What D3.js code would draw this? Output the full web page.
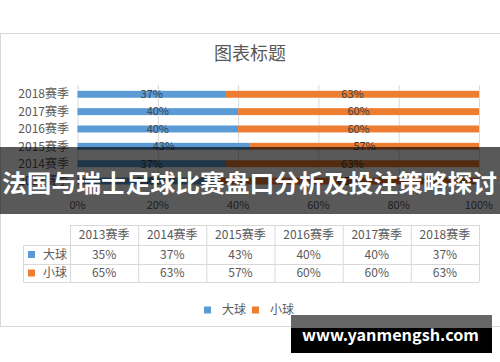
<!DOCTYPE html>
<html>
<head>
<meta charset="utf-8">
<script src="https://cdn.jsdelivr.net/npm/d3@7"></script>
<style>
  html, body { margin: 0; padding: 0; background: #fff; }
  svg { display: block; }
  text { font-family: "Noto Sans CJK SC", "Noto Sans", sans-serif; }
</style>
</head>
<body>
<div id="chart"></div>
<script>
// data
const seasons = ["2013赛季", "2014赛季", "2015赛季", "2016赛季", "2017赛季", "2018赛季"];
const seriesNames = ["大球", "小球"];
const bigBall = [35, 37, 43, 40, 40, 37];
const smallBall = [65, 63, 57, 60, 60, 63];
const xTicks = [0, 20, 40, 60, 80, 100];
const chartTitle = "图表标题";
const bannerText = "法国与瑞士足球比赛盘口分析及投注策略探讨";
const watermark = "www.yanmengsh.com";

const colors = ["#5b9bd5", "#ed7d31"];
const width = 500, height = 362;

const svg = d3.select("#chart").append("svg")
    .attr("width", width)
    .attr("height", height);

// chart frame
svg.append("rect")
    .attr("x", 0.5).attr("y", 33.5)
    .attr("width", 540).attr("height", 293)
    .attr("fill", "#fff")
    .attr("stroke", "#d9d9d9");

svg.append("text")
    .attr("x", 250).attr("y", 60)
    .attr("text-anchor", "middle")
    .attr("font-size", 18)
    .attr("fill", "#595959")
    .text(chartTitle);

// scales
let x = d3.scaleLinear().domain([0, 100]).range([77.5, 479]);
let y = d3.scaleBand()
    .domain(seasons.slice().reverse())
    .range([85.6, 189.7])
    .paddingInner(0.6)
    .paddingOuter(0.3);

// gridlines
svg.append("g").selectAll("line")
    .data(xTicks)
    .enter().append("line")
    .attr("x1", d => x(d) + 0.5).attr("x2", d => x(d) + 0.5)
    .attr("y1", 85).attr("y2", 190)
    .attr("stroke", "#d9d9d9");

// stacked bars
let rows = seasons.map((s, i) => ({ season: s, big: bigBall[i], small: smallBall[i] }));
let stack = d3.stack().keys(["big", "small"])(rows);

let layers = svg.append("g").selectAll("g")
    .data(stack)
    .enter().append("g")
    .attr("fill", (d, i) => colors[i]);

layers.selectAll("rect")
    .data(d => d)
    .enter().append("rect")
    .attr("x", d => x(d[0]))
    .attr("width", d => x(d[1]) - x(d[0]))
    .attr("y", d => y(d.data.season))
    .attr("height", y.bandwidth());

layers.selectAll("text")
    .data(d => d)
    .enter().append("text")
    .attr("x", d => (x(d[0]) + x(d[1])) / 2)
    .attr("y", d => y(d.data.season) + y.bandwidth() / 2)
    .attr("dy", "0.35em")
    .attr("text-anchor", "middle")
    .attr("font-size", 11)
    .attr("fill", "#404040")
    .text(d => (d[1] - d[0]) + "%");

// category axis labels
svg.append("g").selectAll("text")
    .data(seasons)
    .enter().append("text")
    .attr("x", 69)
    .attr("y", d => y(d) + y.bandwidth() / 2)
    .attr("dy", "0.35em")
    .attr("text-anchor", "end")
    .attr("font-size", 12)
    .attr("fill", "#595959")
    .text(d => d);

// value axis labels
svg.append("g").selectAll("text")
    .data(xTicks)
    .enter().append("text")
    .attr("x", d => x(d))
    .attr("y", 205)
    .attr("dy", "0.35em")
    .attr("text-anchor", "middle")
    .attr("font-size", 11)
    .attr("fill", "#595959")
    .text(d => d + "%");

// data table
let colX = d3.scaleBand().domain(seasons).range([70, 479]);
let tableTop = 225, rowH = [20, 19, 18];
let rowY = [tableTop, tableTop + rowH[0], tableTop + rowH[0] + rowH[1], tableTop + rowH[0] + rowH[1] + rowH[2]];
let table = svg.append("g").attr("fill", "none").attr("stroke", "#d9d9d9");

// horizontal lines
table.append("line").attr("x1", 70).attr("x2", 479).attr("y1", rowY[0] + 0.5).attr("y2", rowY[0] + 0.5);
[1, 2, 3].forEach(r => {
    table.append("line").attr("x1", 23).attr("x2", 479).attr("y1", rowY[r] + 0.5).attr("y2", rowY[r] + 0.5);
});
// vertical lines
table.append("line").attr("x1", 23.5).attr("x2", 23.5).attr("y1", rowY[1]).attr("y2", rowY[3]);
seasons.forEach(s => {
    table.append("line").attr("x1", colX(s) + 0.5).attr("x2", colX(s) + 0.5).attr("y1", rowY[0]).attr("y2", rowY[3]);
});
table.append("line").attr("x1", 479.5).attr("x2", 479.5).attr("y1", rowY[0]).attr("y2", rowY[3]);

let cells = svg.append("g").attr("font-size", 12).attr("fill", "#595959").attr("text-anchor", "middle");
cells.selectAll(".hdr")
    .data(seasons)
    .enter().append("text")
    .attr("x", d => colX(d) + colX.bandwidth() / 2)
    .attr("y", (rowY[0] + rowY[1]) / 2)
    .attr("dy", "0.35em")
    .text(d => d);

[bigBall, smallBall].forEach((vals, r) => {
    let cy = (rowY[r + 1] + rowY[r + 2]) / 2;
    cells.selectAll(".v" + r)
        .data(vals)
        .enter().append("text")
        .attr("x", (d, i) => colX(seasons[i]) + colX.bandwidth() / 2)
        .attr("y", cy)
        .attr("dy", "0.35em")
        .text(d => d + "%");
    svg.append("rect")
        .attr("x", 28).attr("y", cy - 3.5)
        .attr("width", 7).attr("height", 7)
        .attr("fill", colors[r]);
    svg.append("text")
        .attr("x", 43).attr("y", cy)
        .attr("dy", "0.35em")
        .attr("font-size", 12)
        .attr("fill", "#595959")
        .text(seriesNames[r]);
});

// legend
let legend = svg.append("g").selectAll("g")
    .data(seriesNames)
    .enter().append("g")
    .attr("transform", (d, i) => "translate(" + (204 + i * 48) + ",310)");
legend.append("rect")
    .attr("x", 0).attr("y", -3.5)
    .attr("width", 7).attr("height", 7)
    .attr("fill", (d, i) => colors[i]);
legend.append("text")
    .attr("x", 18).attr("dy", "0.35em")
    .attr("font-size", 12)
    .attr("fill", "#595959")
    .text(d => d);

// banner overlay
svg.append("rect")
    .attr("x", 0).attr("y", 147)
    .attr("width", width).attr("height", 67)
    .attr("fill", "#000")
    .attr("fill-opacity", 0.65);
svg.append("text")
    .attr("x", 2).attr("y", 184)
    .attr("dy", "0.35em")
    .attr("font-size", 24)
    .attr("font-weight", "bold")
    .attr("fill", "#fff")
    .attr("textLength", 495)
    .attr("lengthAdjust", "spacingAndGlyphs")
    .text(bannerText);

// watermark
svg.append("rect")
    .attr("x", 291).attr("y", 315)
    .attr("width", 201).attr("height", 13)
    .attr("fill", "#666");
svg.append("rect")
    .attr("x", 291).attr("y", 328)
    .attr("width", 201).attr("height", 25)
    .attr("fill", "#000");
svg.append("text")
    .attr("x", 302).attr("y", 341)
    .attr("font-family", "DejaVu Sans")
    .attr("font-size", 16)
    .attr("font-weight", "bold")
    .attr("fill", "#fff")
    .attr("textLength", 177)
    .attr("lengthAdjust", "spacingAndGlyphs")
    .text(watermark);
</script>
</body>
</html>
